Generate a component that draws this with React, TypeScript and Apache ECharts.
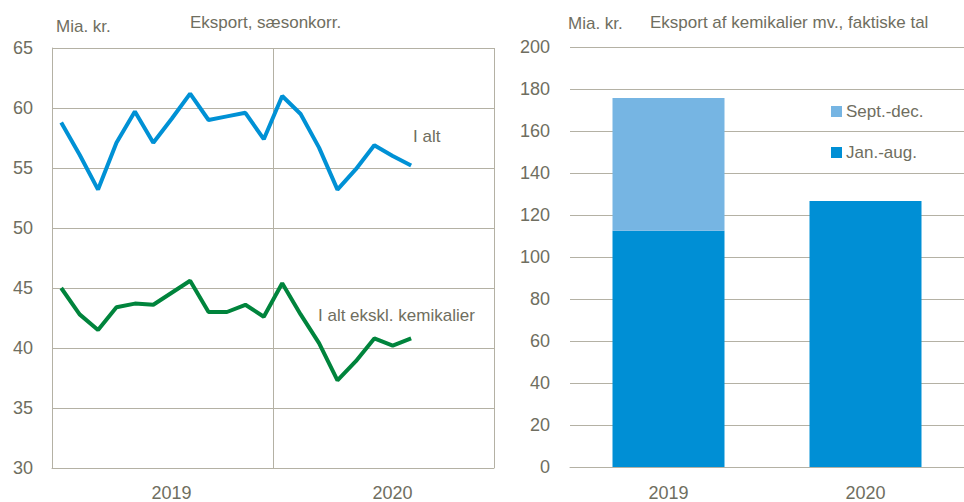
import React, { useEffect, useRef } from "react";
import * as echarts from "echarts";

const months = [
  "2019M01", "2019M02", "2019M03", "2019M04", "2019M05", "2019M06",
  "2019M07", "2019M08", "2019M09", "2019M10", "2019M11", "2019M12",
  "2020M01", "2020M02", "2020M03", "2020M04", "2020M05", "2020M06",
  "2020M07", "2020M08", "2020M09", "2020M10", "2020M11", "2020M12",
];
const yearLabels = ["2019", "2020"];

const iAlt = [
  58.8, 56.1, 53.2, 57.1, 59.7, 57.1, 59.1, 61.2, 59.0, 59.3,
  59.6, 57.4, 61.0, 59.5, 56.7, 53.2, 54.9, 56.9, 56.0, 55.2,
];
const iAltEksKem = [
  45.0, 42.8, 41.5, 43.4, 43.7, 43.6, 44.6, 45.6, 43.0, 43.0,
  43.6, 42.6, 45.4, 42.8, 40.4, 37.3, 38.9, 40.8, 40.2, 40.8,
];

const barYears = ["2019", "2020"];
const janAug = [112.5, 126.7];
const septDec = [63.2, null];

const leftTitle = "Eksport, sæsonkorr.";
const rightTitle = "Eksport af kemikalier mv., faktiske tal";
const unitLabel = "Mia. kr.";
const seriesNames = ["I alt", "I alt ekskl. kemikalier"];
const barNames = ["Jan.-aug.", "Sept.-dec."];

const TEXT = "#6f6e60";
const GRID = "#b4b1a4";
const FONT = "'Liberation Sans', Arial, sans-serif";

export default function App() {
  const ref = useRef<HTMLDivElement>(null);
  useEffect(() => {
    if (!ref.current) return;
    const chart = echarts.init(ref.current, undefined, { renderer: "svg" });
    const txt = (text: string, x: number, y: number) => ({
      type: "text",
      x,
      y,
      style: { text, fill: TEXT, font: `17px ${FONT}`, verticalAlign: "middle", align: "left" },
    });
    chart.setOption({
      animation: false,
      textStyle: { fontFamily: FONT, color: TEXT },
      grid: [
        { left: 52, top: 48, width: 442, height: 420 },
        { left: 570, top: 47, width: 402, height: 420 },
      ],
      xAxis: [
        {
          type: "category",
          gridIndex: 0,
          data: months,
          show: false,
          boundaryGap: true,
        },
        {
          type: "category",
          gridIndex: 0,
          position: "bottom",
          data: yearLabels,
          boundaryGap: true,
          axisLine: { show: true, lineStyle: { color: GRID, width: 1 } },
          axisTick: { show: false },
          splitLine: { show: true, lineStyle: { color: GRID, width: 1 } },
          axisLabel: { color: TEXT, fontSize: 18, fontFamily: FONT, margin: 16, padding: [0, 0, 0, 18] },
        },
        {
          type: "category",
          gridIndex: 1,
          position: "bottom",
          data: barYears,
          axisLine: { show: true, lineStyle: { color: GRID, width: 1 } },
          axisTick: { show: false },
          axisLabel: { color: TEXT, fontSize: 18, fontFamily: FONT, margin: 17 },
        },
      ],
      yAxis: [
        {
          type: "value",
          gridIndex: 0,
          min: 30,
          max: 65,
          interval: 5,
          axisLine: { show: true, lineStyle: { color: GRID, width: 1 } },
          axisTick: { show: false },
          splitLine: { show: true, lineStyle: { color: GRID, width: 1 } },
          axisLabel: { color: TEXT, fontSize: 18, fontFamily: FONT, margin: 19 },
        },
        {
          type: "value",
          gridIndex: 1,
          min: 0,
          max: 200,
          interval: 20,
          axisLine: { show: false },
          axisTick: { show: false },
          splitLine: { show: true, lineStyle: { color: GRID, width: 1 } },
          axisLabel: { color: TEXT, fontSize: 18, fontFamily: FONT, margin: 20 },
        },
      ],
      legend: {
        orient: "vertical",
        left: 826,
        top: 98,
        itemWidth: 11,
        itemHeight: 11,
        itemGap: 24,
        icon: "rect",
        data: [barNames[1], barNames[0]],
        textStyle: { color: TEXT, fontSize: 17, fontFamily: FONT, padding: [0, 0, 0, -1] },
      },
      series: [
        {
          name: seriesNames[0],
          type: "line",
          xAxisIndex: 0,
          yAxisIndex: 0,
          data: iAlt,
          symbol: "none",
          lineStyle: { color: "#0091d5", width: 4 },
          itemStyle: { color: "#0091d5" },
        },
        {
          name: seriesNames[1],
          type: "line",
          xAxisIndex: 0,
          yAxisIndex: 0,
          data: iAltEksKem,
          symbol: "none",
          lineStyle: { color: "#00843c", width: 4 },
          itemStyle: { color: "#00843c" },
        },
        {
          name: barNames[0],
          type: "bar",
          xAxisIndex: 2,
          yAxisIndex: 1,
          stack: "kem",
          data: janAug,
          barWidth: 112,
          itemStyle: { color: "#008fd5" },
        },
        {
          name: barNames[1],
          type: "bar",
          xAxisIndex: 2,
          yAxisIndex: 1,
          stack: "kem",
          data: septDec,
          barWidth: 112,
          itemStyle: { color: "#76b5e3" },
        },
      ],
      graphic: [
        txt(unitLabel, 56, 26),
        txt(leftTitle, 190, 22),
        txt(unitLabel, 568, 23),
        txt(rightTitle, 650, 22),
        txt(seriesNames[0], 413, 136),
        txt(seriesNames[1], 318, 315),
      ],
    });
    return () => chart.dispose();
  }, []);
  return (
    <div
      ref={ref}
      style={{ position: "fixed", left: 0, top: 0, width: 964, height: 502, background: "#fff" }}
    />
  );
}
